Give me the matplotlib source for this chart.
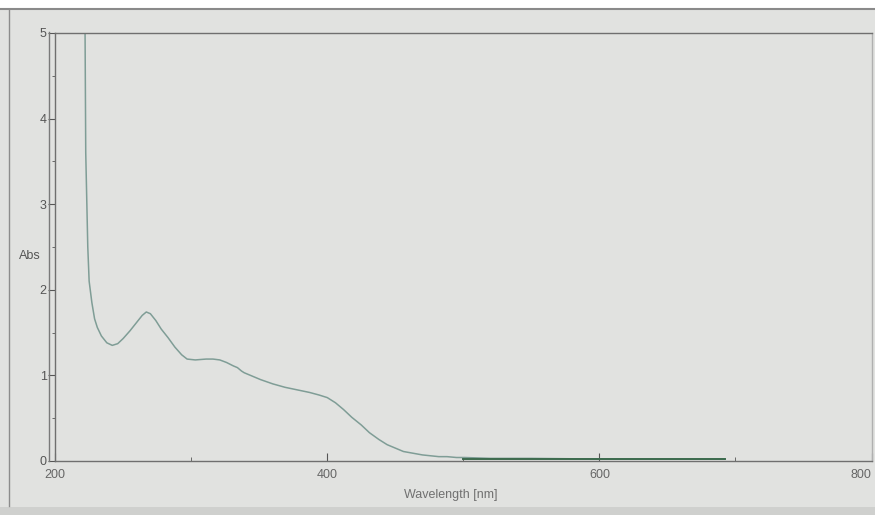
import matplotlib
matplotlib.use("Agg")
import matplotlib.pyplot as plt
from matplotlib.patches import Rectangle
from matplotlib.lines import Line2D

wavelength = [222, 222.5, 224, 225, 227, 229, 231, 234, 238, 242, 246, 250, 255, 260, 264, 267,
              270, 274, 278, 283, 288, 293, 297, 303, 311, 316, 321, 326, 331, 334, 337, 339,
              345, 351, 360, 369, 378, 387, 394, 400, 406, 412, 418, 425, 431, 438, 444,
              450, 456, 463, 470, 476, 482, 488, 495, 501, 520, 550, 580, 610, 640, 670, 692]
absorbance = [5.0, 3.6, 2.5, 2.1, 1.85, 1.66, 1.56, 1.46, 1.38, 1.35, 1.37, 1.43, 1.52, 1.62, 1.70, 1.74,
              1.72, 1.64, 1.54, 1.44, 1.33, 1.24, 1.19, 1.18, 1.19, 1.19, 1.18, 1.15, 1.11, 1.09, 1.05, 1.03,
              0.99, 0.95, 0.90, 0.86, 0.83, 0.80, 0.77, 0.74, 0.68, 0.60, 0.51, 0.42, 0.33, 0.25, 0.19,
              0.15, 0.11, 0.09, 0.07, 0.06, 0.05, 0.05, 0.04, 0.04, 0.03, 0.03, 0.025, 0.02, 0.02, 0.02, 0.02]

x_ticks = [200, 400, 600, 800]
x_labels = ["200", "400", "600", "800"]
y_ticks = [0, 1, 2, 3, 4, 5]

bg = "#e1e2e0"
fig = plt.figure(figsize=(8.75, 5.15), dpi=100, facecolor=bg)
plt.rcParams['font.family'] = ['Liberation Sans', 'DejaVu Sans']

# photo framing: white strip on top, screen edge lines, darker band at the bottom
fig.patches.append(Rectangle((0, 0.982), 1, 0.02, transform=fig.transFigure,
                             facecolor="white", edgecolor="none", zorder=0))
fig.patches.append(Rectangle((0, 0), 1, 0.016, transform=fig.transFigure,
                             facecolor="#cfd0ce", edgecolor="none", zorder=0))
fig.lines.append(Line2D([0, 1], [0.982, 0.982], transform=fig.transFigure,
                        color="#8a8a8a", lw=1.5))
fig.lines.append(Line2D([0.0105, 0.0105], [0.018, 0.98], transform=fig.transFigure,
                        color="#8c8c8c", lw=1.0))
fig.lines.append(Line2D([0.056, 0.056], [0.104, 0.937], transform=fig.transFigure,
                        color="#7a7a7a", lw=1.0))

ax = fig.add_axes([0.063, 0.105, 0.933, 0.831], facecolor=bg)
ax.plot(wavelength, absorbance, color="#7f9d96", lw=1.1)
ax.plot([500, 692], [0.02, 0.02], color="#3d6b4e", lw=1.4)

ax.set_xlim(200, 800)
ax.set_ylim(0, 5)
ax.set_xticks(x_ticks)
ax.set_xticklabels(x_labels)
ax.get_xticklabels()[-1].set_horizontalalignment("right")
ax.set_xticks([300, 500, 700], minor=True)
ax.set_yticks(y_ticks)
ax.set_yticks([0.5, 1.5, 2.5, 3.5, 4.5], minor=True)
ax.tick_params(axis="x", direction="in", length=6, labelsize=9, colors="#555555",
               labelcolor="#666666", pad=6)
ax.tick_params(axis="x", which="minor", direction="in", length=3, colors="#555555")
ax.tick_params(axis="y", direction="out", length=5, labelsize=9, colors="#555555",
               labelcolor="#555555", pad=1)
ax.tick_params(axis="y", which="minor", direction="out", length=2, colors="#555555")
for s in ax.spines.values():
    s.set_color("#6f6f6f")
    s.set_linewidth(1.0)
ax.spines["right"].set_color("#b0b0b0")

ax.set_xlabel("Wavelength [nm]", fontsize=9, color="#707070", labelpad=4)
ax.xaxis.set_label_coords(0.485, -0.065)
ax.set_ylabel("Abs", fontsize=9, color="#555555", rotation=0, va="center")
ax.yaxis.set_label_coords(-0.031, 0.479)

fig.savefig("out.png", dpi=100, facecolor=bg)
